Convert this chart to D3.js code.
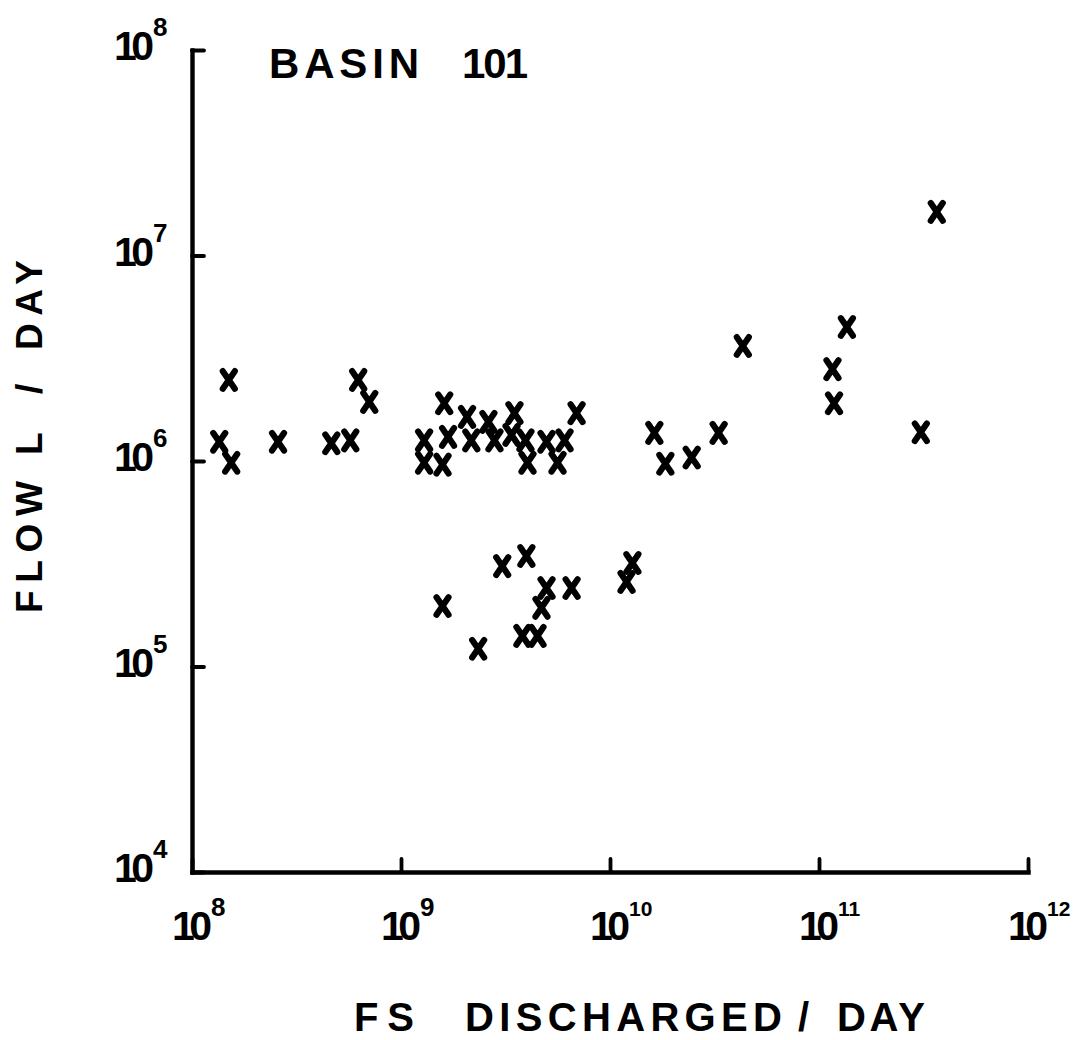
<!DOCTYPE html>
<html>
<head>
<meta charset="utf-8">
<script src="https://cdn.jsdelivr.net/npm/d3@7"></script>
<style>
  html, body { margin: 0; padding: 0; background: #fff; }
  svg { display: block; }
  text { font-family: "Liberation Sans", Arial, sans-serif; font-weight: bold; fill: #000; }
</style>
</head>
<body>
<svg id="chart" width="1074" height="1040"></svg>
<script>
// FS discharged per day (x) and flow in L/day (y)
const fsDischarged = [
  1.50e8, 1.35e8, 1.54e8, 2.58e8, 4.64e8, 5.72e8, 6.24e8, 7.05e8,
  1.29e9, 1.29e9, 1.58e9, 1.68e9, 1.61e9, 2.07e9, 2.17e9, 2.62e9,
  2.80e9, 3.49e9, 3.38e9, 3.94e9, 4.03e9, 4.97e9, 5.61e9, 6.06e9, 6.92e9,
  1.63e10, 1.84e10, 2.46e10, 3.31e10, 4.32e10,
  1.16e11, 1.18e11, 1.36e11, 3.07e11, 3.66e11,
  1.58e9, 2.34e9, 3.05e9, 3.98e9, 3.81e9, 4.50e9, 4.70e9, 4.97e9, 6.55e9,
  1.28e10, 1.20e10
];
const flow = [
  2.48e6, 1.24e6, 9.8e5, 1.24e6, 1.22e6, 1.26e6, 2.48e6, 1.94e6,
  1.26e6, 9.8e5, 9.6e5, 1.31e6, 1.91e6, 1.64e6, 1.26e6, 1.55e6,
  1.26e6, 1.71e6, 1.34e6, 1.26e6, 9.8e5, 1.24e6, 9.8e5, 1.26e6, 1.71e6,
  1.37e6, 9.7e5, 1.04e6, 1.37e6, 3.63e6,
  2.80e6, 1.91e6, 4.49e6, 1.38e6, 1.63e7,
  1.97e5, 1.22e5, 3.08e5, 3.45e5, 1.41e5, 1.41e5, 1.93e5, 2.41e5, 2.41e5,
  3.19e5, 2.58e5
];
const xTickExponents = ["8", "9", "10", "11", "12"];
const yTickExponents = ["4", "5", "6", "7", "8"];
const titleText = ["BASIN", "101"];
const xTitleWords = ["FS", "DISCHARGED", "/", "DAY"];
const yTitleWords = ["FLOW", "L", "/", "DAY"];

const svg = d3.select("#chart");
const x = d3.scaleLog().domain([1e8, 1e12]).range([192, 1028]);
const y = d3.scaleLog().domain([1e4, 1e8]).range([872, 50]);

const xTicks = xTickExponents.map(e => Math.pow(10, +e));
const yTicks = yTickExponents.map(e => Math.pow(10, +e));

// axes
const gx = svg.append("g").attr("transform", `translate(0,${y(1e4)})`)
  .call(d3.axisBottom(x).tickValues(xTicks).tickSize(-13).tickSizeOuter(0).tickFormat(""));
const gy = svg.append("g").attr("transform", `translate(${x(1e8)},0)`)
  .call(d3.axisLeft(y).tickValues(yTicks).tickSize(-12).tickSizeOuter(0).tickFormat(""));
[gx, gy].forEach(g => {
  g.select(".domain").attr("stroke", "#000").attr("stroke-width", 4.4).attr("stroke-linecap", "square");
  g.selectAll(".tick line").attr("stroke", "#000").attr("stroke-width", 3.8).attr("stroke-linecap", "round");
});

// tick labels: "10" with superscript exponent
function power(g, px, py, exp, anchorEnd) {
  const bx = anchorEnd ? px - 40 : px - 20;
  g.append("text")
    .attr("font-size", 41)
    .attr("x", bx).attr("y", py)
    .attr("textLength", 40).attr("lengthAdjust", "spacing")
    .text("10");
  g.append("text")
    .attr("font-size", exp.length > 1 ? 21 : 26)
    .attr("x", bx + 39)
    .attr("y", py - 24)
    .text(exp);
}
const lab = svg.append("g");
xTickExponents.forEach((e, i) => power(lab, x(xTicks[i]), 940, e, false));
yTickExponents.forEach((e, i) => power(lab, 154, y(yTicks[i]) + 10, e, true));

// markers
svg.append("g")
  .selectAll("path")
  .data(fsDischarged.map((v, i) => [v, flow[i]]))
  .join("path")
  .attr("transform", d => `translate(${x(d[0])},${y(d[1])})`)
  .attr("d", "M-6,-8.8Q0,0 6,8.8M6,-8.8Q0,0 -6,8.8")
  .attr("fill", "none")
  .attr("stroke", "#000")
  .attr("stroke-width", 6.2)
  .attr("stroke-linecap", "round");

// titles
const tpos = [[269, 150], [462, 66]];
titleText.forEach((t, i) => {
  svg.append("text").attr("x", tpos[i][0]).attr("y", 78).attr("font-size", 42)
    .attr("textLength", tpos[i][1]).attr("lengthAdjust", "spacing").text(t);
});

const xpos = [[354, 60], [465, 317], [798, 20], [837, 88]];
xTitleWords.forEach((t, i) => {
  svg.append("text").attr("x", xpos[i][0]).attr("y", 1031).attr("font-size", 40)
    .attr("textLength", xpos[i][1]).attr("lengthAdjust", "spacing").text(t);
});

const gyt = svg.append("g").attr("transform", "translate(42,610) rotate(-90)");
const ypos = [[-3, 132], [155, 32], [216, 20], [260, 90]];
yTitleWords.forEach((t, i) => {
  gyt.append("text").attr("x", ypos[i][0]).attr("y", 0).attr("font-size", 37)
    .attr("textLength", ypos[i][1]).attr("lengthAdjust", "spacing").text(t);
});
</script>
</body>
</html>
